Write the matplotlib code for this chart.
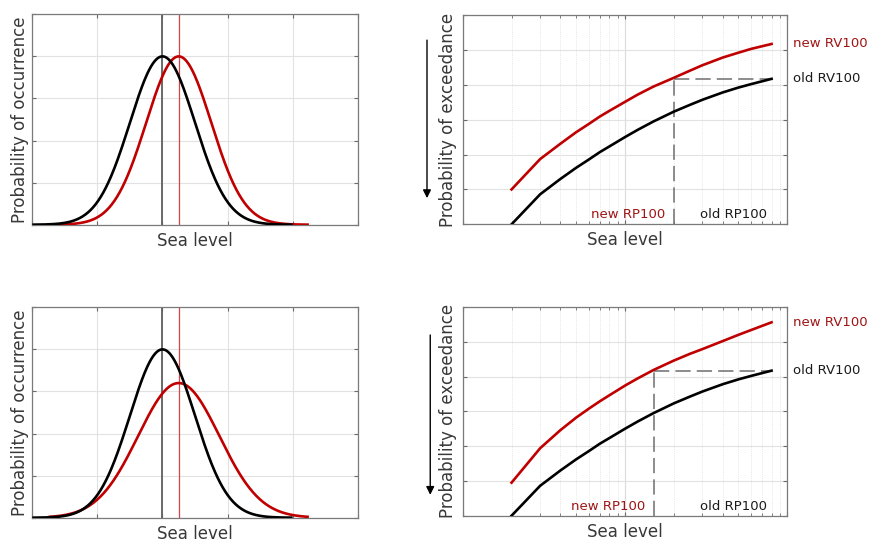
import numpy as np
import matplotlib
matplotlib.use("Agg")
import matplotlib.pyplot as plt
from matplotlib.ticker import NullFormatter, LogLocator
import matplotlib.transforms as mtransforms

plt.rcParams['font.family'] = ['DejaVu Sans']

# ---------------- data ----------------
# left panels: normal distributions of sea level (mean, sd, peak height)
occ_top_mean = [0.0, 0.25]        # old, new
occ_top_sd = [0.5, 0.5]
occ_top_peak = [0.8, 0.8]
occ_bot_mean = [0.0, 0.25]
occ_bot_sd = [0.5, 0.625]
occ_bot_peak = [0.8, 0.64]
occ_halfspan = 2.0                # curves drawn over mean +/- 2

# right panels: return-value curves
return_period = [2, 3, 4, 5, 6, 7, 8, 10, 12, 15, 20, 25, 30, 40, 50, 60, 80]
rv_old = [0.0, 0.86, 1.30, 1.62, 1.86, 2.07, 2.23, 2.50, 2.71, 2.95,
          3.23, 3.42, 3.57, 3.78, 3.92, 4.02, 4.17]
rv_new_top = [1.0, 1.87, 2.31, 2.64, 2.88, 3.09, 3.25, 3.51, 3.72, 3.95,
              4.20, 4.40, 4.56, 4.78, 4.92, 5.03, 5.17]
rv_new_bot = [0.95, 1.94, 2.46, 2.82, 3.08, 3.29, 3.46, 3.74, 3.95, 4.19,
              4.46, 4.65, 4.79, 5.02, 5.20, 5.34, 5.56]
rp_new_top = 20
rp_new_bot = 15

RED = '#c00000'
RED_TXT = '#a01414'
LABEL_C = '#383838'
GRID_C = '#e2e2e2'

fig = plt.figure(figsize=(8.69, 5.4), dpi=100)
W, H = 869.0, 540.0


def rect(l, r, t, b):
    return [l / W, (H - b) / H, (r - l) / W, (b - t) / H]


def style_axes(ax):
    for s in ax.spines.values():
        s.set_color('#7a7a7a')
        s.set_linewidth(0.9)
    ax.tick_params(which='both', direction='in', top=True, right=True,
                   color='#6a6a6a', labelbottom=False, labelleft=False)
    ax.tick_params(which='major', length=3, width=0.8)
    ax.tick_params(which='minor', length=2, width=0.6)


def gauss(xs, m, s, p):
    return p * np.exp(-0.5 * ((xs - m) / s) ** 2)


def occurrence_panel(ax, means, sds, peaks, lx):
    ax.set_xlim(-2, 3)
    ax.set_ylim(0, 1)
    ax.set_xticks(np.arange(-2, 4, 1))
    ax.set_yticks(np.linspace(0, 1, 6))
    ax.grid(True, color=GRID_C, lw=0.8)
    ax.set_axisbelow(True)
    style_axes(ax)
    ax.axvline(means[0], color='#5f5f5f', lw=1.3, zorder=2)
    ax.axvline(means[1], color='#d64545', lw=0.9, zorder=2)
    colors = ['black', RED]
    for i in (1, 0):
        xs = np.linspace(means[i] - occ_halfspan, means[i] + occ_halfspan, 400)
        ax.plot(xs, gauss(xs, means[i], sds[i], peaks[i]), color=colors[i],
                lw=1.9, zorder=3, solid_capstyle='butt')
    ax.set_xlabel('Sea level', fontsize=12, color=LABEL_C, labelpad=5)
    ax.text(lx, 0.5, 'Probability of occurrence', rotation=90, ha='center',
            va='center', fontsize=12, color=LABEL_C, transform=ax.transAxes)


def exceedance_panel(ax, rv_new, rp_new, arrow_x, arrow_y0, arrow_y1, lx):
    ax.set_xscale('log')
    ax.set_xlim(1, 100)
    ax.set_ylim(0, 6)
    ax.set_yticks(np.arange(0, 7, 1))
    ax.xaxis.set_major_locator(LogLocator(base=10))
    ax.xaxis.set_minor_locator(LogLocator(base=10, subs=np.arange(2, 10)))
    ax.xaxis.set_major_formatter(NullFormatter())
    ax.xaxis.set_minor_formatter(NullFormatter())
    ax.yaxis.grid(True, color=GRID_C, lw=0.8)
    ax.xaxis.grid(True, which='major', color='#dadada', lw=0.8)
    ax.xaxis.grid(True, which='minor', color='#dedede', lw=0.6, linestyle=(0, (1, 1.5)))
    ax.set_axisbelow(True)
    style_axes(ax)
    old_end = rv_old[-1]
    ax.plot([rp_new, return_period[-1]], [old_end, old_end], color='#6e6e6e',
            lw=1.1, linestyle=(0, (10, 4)), zorder=2)
    ax.plot([rp_new, rp_new], [0, old_end], color='#6e6e6e',
            lw=1.1, linestyle=(0, (10, 4)), zorder=2)
    ax.plot(return_period, rv_old, color='black', lw=1.9, zorder=3)
    ax.plot(return_period, rv_new, color=RED, lw=1.9, zorder=3)
    bt = mtransforms.blended_transform_factory(ax.transAxes, ax.transData)
    ax.text(1.0175, rv_new[-1], 'new RV100', color=RED_TXT, fontsize=9.5,
            ha='left', va='center', transform=bt, clip_on=False)
    ax.text(1.0175, old_end, 'old RV100', color='#1a1a1a', fontsize=9.5,
            ha='left', va='center', transform=bt, clip_on=False)
    ax.annotate('new RP100', xy=(rp_new, 0.27), xytext=(-6, 0),
                textcoords='offset points', color=RED_TXT, fontsize=9.5,
                ha='right', va='center')
    ax.text(0.9375, 0.045, 'old RP100', color='#1a1a1a', fontsize=9.5,
            ha='right', va='center', transform=ax.transAxes)
    ax.annotate('', xy=(arrow_x, arrow_y1), xytext=(arrow_x, arrow_y0),
                xycoords='axes fraction', textcoords='axes fraction',
                arrowprops=dict(arrowstyle='-|>', color='black', lw=1.0,
                                mutation_scale=12, shrinkA=0, shrinkB=0),
                annotation_clip=False)
    ax.set_xlabel('Sea level', fontsize=12, color=LABEL_C, labelpad=5)
    ax.text(lx, 0.5, 'Probability of exceedance', rotation=90, ha='center',
            va='center', fontsize=12, color=LABEL_C, transform=ax.transAxes)


ax_tl = fig.add_axes(rect(32.3, 357.7, 14.3, 224.7))
ax_tr = fig.add_axes(rect(462.7, 787.3, 15.0, 224.3))
ax_bl = fig.add_axes(rect(32.3, 357.7, 307.3, 517.7))
ax_br = fig.add_axes(rect(462.7, 787.3, 307.0, 515.7))

occurrence_panel(ax_tl, occ_top_mean, occ_top_sd, occ_top_peak, -0.0378)
occurrence_panel(ax_bl, occ_bot_mean, occ_bot_sd, occ_bot_peak, -0.0378)
exceedance_panel(ax_tr, rv_new_top, rp_new_top, -0.110, 0.88, 0.125, -0.0453)
exceedance_panel(ax_br, rv_new_bot, rp_new_bot, -0.100, 0.866, 0.100, -0.0453)

fig.savefig('out.png', dpi=100)
